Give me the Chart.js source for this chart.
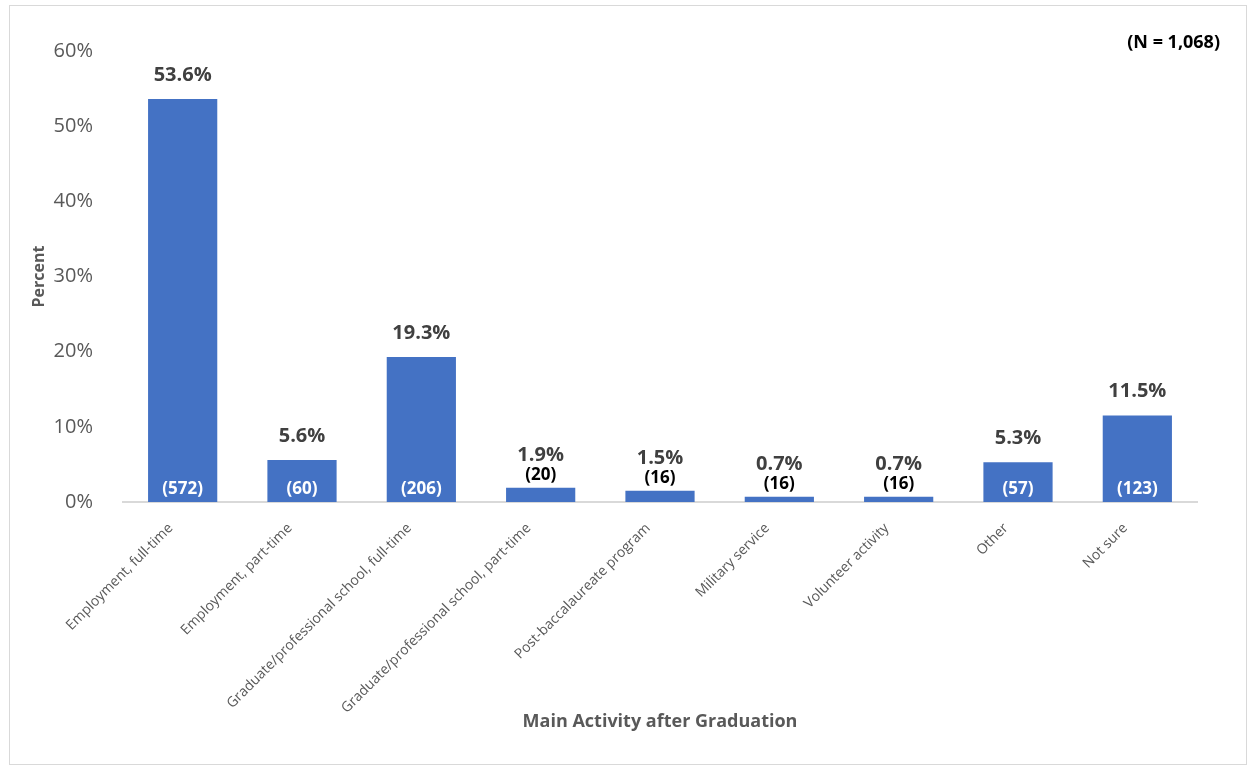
<!DOCTYPE html>
<html>
<head>
<meta charset="utf-8">
<script src="https://cdn.jsdelivr.net/npm/chart.js@4/dist/chart.umd.min.js"></script>
<style>
  body { margin: 0; background: #fff; }
  #box { position: absolute; left: 9px; top: 5px; width: 1236px; height: 758px; border: 1px solid #d9d9d9; }
</style>
</head>
<body>
<div id="box"><canvas id="myChart" width="1236" height="758"></canvas></div>
<script>
const categories = ['Employment, full-time', 'Employment, part-time', 'Graduate/professional school, full-time',
    'Graduate/professional school, part-time', 'Post-baccalaureate program', 'Military service',
    'Volunteer activity', 'Other', 'Not sure'];
const percents = [53.6, 5.6, 19.3, 1.9, 1.5, 0.7, 0.7, 5.3, 11.5];
const counts = [572, 60, 206, 20, 16, 16, 16, 57, 123];
const yTicks = [0, 10, 20, 30, 40, 50, 60];
const sampleNote = '(N = 1,068)';

const font = '"Open Sans", sans-serif';

const labelPlugin = {
    id: 'barLabels',
    afterDatasetsDraw(chart) {
        const c = chart.ctx;
        const meta = chart.getDatasetMeta(0);
        c.save();
        c.textAlign = 'center';
        c.textBaseline = 'middle';
        meta.data.forEach((bar, i) => {
            const pct = percents[i].toFixed(1) + '%';
            const cnt = '(' + counts[i] + ')';
            if (percents[i] >= 5) {
                c.font = 'bold 20px ' + font;
                c.fillStyle = '#404040';
                c.fillText(pct, bar.x, bar.y - 24);
                c.font = 'bold 17px ' + font;
                c.fillStyle = '#ffffff';
                c.fillText(cnt, bar.x, bar.base - 13);
            } else {
                c.font = 'bold 17px ' + font;
                c.fillStyle = '#000000';
                c.fillText(cnt, bar.x, bar.y - 13);
                c.font = 'bold 20px ' + font;
                c.fillStyle = '#404040';
                c.fillText(pct, bar.x, bar.y - 32);
            }
        });
        const a = chart.chartArea;
        c.font = 'bold 18px ' + font;
        c.fillStyle = '#000000';
        c.textAlign = 'right';
        c.fillText(sampleNote, a.right + 23, a.top - 8);
        c.restore();
    }
};

new Chart(document.getElementById('myChart'), {
    type: 'bar',
    data: {
        labels: categories,
        datasets: [{
            data: percents,
            backgroundColor: '#4472C4',
            barPercentage: 0.58,
            categoryPercentage: 1,
        }],
    },
    plugins: [labelPlugin],
    options: {
        responsive: false,
        animation: false,
        layout: { padding: { left: 20, right: 49, top: 45, bottom: 30 } },
        plugins: { legend: { display: false }, tooltip: { enabled: false } },
        scales: {
            x: {
                grid: { display: false },
                border: { color: '#d9d9d9', width: 2 },
                ticks: { color: '#595959', font: { family: font, size: 14 }, maxRotation: 45, minRotation: 45,
                    padding: 10, labelOffset: -12 },
                title: { display: true, text: 'Main Activity after Graduation', color: '#595959',
                    font: { family: font, size: 18, weight: 'bold' }, padding: { top: 0, bottom: 1 } },
                afterFit(scale) { scale.height = 758 - 496 - 30; },
            },
            y: {
                min: 0, max: 60,
                grid: { display: false },
                border: { display: false },
                afterBuildTicks(scale) { scale.ticks = yTicks.map(v => ({ value: v })); },
                ticks: { color: '#595959', font: { family: font, size: 20 }, padding: 22,
                    callback: v => v + '%' },
                title: { display: true, text: 'Percent', color: '#595959',
                    font: { family: font, size: 16, weight: 'bold' }, padding: 0 },
                afterFit(scale) { scale.width = 113 - 20; },
            },
        },
    },
});
</script>
</body>
</html>
